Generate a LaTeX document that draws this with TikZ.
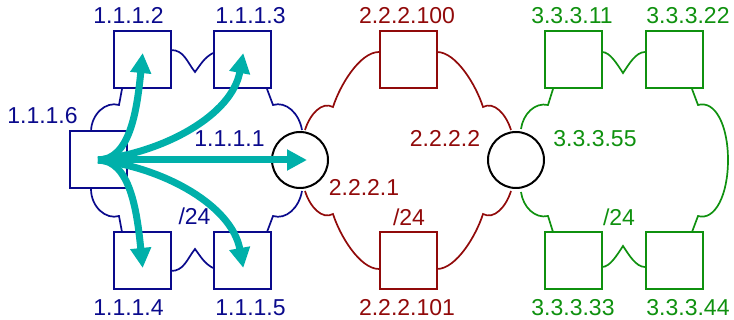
\documentclass[tikz,border=0pt]{standalone}
\usepackage{fontspec}
\setmainfont{Liberation Sans}
\usepackage{tikz}
\usetikzlibrary{arrows.meta}
\definecolor{netblue}{RGB}{10,10,140}
\definecolor{netred}{RGB}{145,10,10}
\definecolor{netgreen}{RGB}{15,145,15}
\definecolor{flowcyan}{RGB}{0,176,170}
\tikzset{
  host/.style={draw, fill=white, line width=1pt, minimum size=28.5pt, inner sep=0pt},
  router/.style={circle, draw=black, fill=white, line width=1pt, minimum size=28pt, inner sep=0pt},
  addr/.style={inner sep=0pt, anchor=base, font=\fontsize{11.5}{13}\selectfont},
  cloudline/.style={line width=0.85pt},
  flow/.style={flowcyan, line width=3.5pt, shorten >=-3.5pt, -{Triangle[width=10pt,length=10pt]}}
}

\begin{document}
\begin{tikzpicture}[x=0.5pt,y=-0.5pt]
\useasboundingbox (0,0) rectangle (734,320);

% network 1 cloud
\draw [netblue,cloudline] (171,50) .. controls (184,50) and (187,62) .. (195,72)
  .. controls (201,64) and (204,58) .. (213,53);
\draw [netblue,cloudline] (171,271) .. controls (184,271) and (187,259) .. (195,249)
  .. controls (201,257) and (204,263) .. (213,268);
\draw [netblue,cloudline] (122,89)--(119,105) .. controls (106,101) and (91,114) .. (91,132);
\draw [netblue,cloudline] (91,189) .. controls (91,207) and (106,220) .. (119,216)--(122,232);
\draw [netblue,cloudline] (267,89)--(273,105) .. controls (286,101) and (299,113) .. (302,130);
\draw [netblue,cloudline] (302,191) .. controls (299,208) and (286,220) .. (273,216)--(267,232);

% network 2 cloud
\draw [netred,cloudline] (305,130) .. controls (310,114) and (322,101) .. (333,107)
  .. controls (340,85) and (360,52) .. (379,52);
\draw [netred,cloudline] (305,191) .. controls (310,207) and (322,220) .. (333,214)
  .. controls (340,236) and (360,269) .. (379,269);
\draw [netred,cloudline] (437,52) .. controls (456,52) and (476,85) .. (483,107)
  .. controls (494,101) and (506,114) .. (511,130);
\draw [netred,cloudline] (437,269) .. controls (456,269) and (476,236) .. (483,214)
  .. controls (494,220) and (506,207) .. (511,191);

% network 3 cloud
\draw [netgreen,cloudline] (521,129) .. controls (523,114) and (535,102) .. (548,105)--(553,89);
\draw [netgreen,cloudline] (521,192) .. controls (523,207) and (535,219) .. (548,216)--(553,232);
\draw [netgreen,cloudline] (602,52) .. controls (610,52) and (617,64) .. (623,73)
  .. controls (629,64) and (636,52) .. (645,52);
\draw [netgreen,cloudline] (602,267) .. controls (610,267) and (617,255) .. (623,246)
  .. controls (629,255) and (636,267) .. (645,267);
\draw [netgreen,cloudline] (692,89)--(698,105) .. controls (715,100) and (728,125) .. (728,160)
  .. controls (728,195) and (715,221) .. (698,216)--(692,232);

% hosts
\node [host,draw=netblue] (h2) at (142,60) {};
\node [host,draw=netblue] (h3) at (242,60) {};
\node [host,draw=netblue] (h6) at (98,160) {};
\node [host,draw=netblue] (h4) at (142,261) {};
\node [host,draw=netblue] (h5) at (242,261) {};
\node [host,draw=netred] (s100) at (408,60) {};
\node [host,draw=netred] (s101) at (408,261) {};
\node [host,draw=netgreen] (g11) at (573,60) {};
\node [host,draw=netgreen] (g22) at (674,60) {};
\node [host,draw=netgreen] (g33) at (573,261) {};
\node [host,draw=netgreen] (g44) at (674,261) {};

% routers
\node [router] (r1) at (300,160) {};
\node [router] (r2) at (516,160) {};

% addresses
\node [addr,netblue] (l2) at (128.5,24) {1.1.1.2};
\node [addr,netblue] (l3) at (250.5,24) {1.1.1.3};
\node [addr,netblue] (l6) at (42.5,124) {1.1.1.6};
\node [addr,netblue] (l1) at (229.5,147) {1.1.1.1};
\node [addr,netblue] (lb24) at (194.5,225) {/24};
\node [addr,netblue] (l4) at (128.5,316) {1.1.1.4};
\node [addr,netblue] (l5) at (250.5,316) {1.1.1.5};
\node [addr,netred] (l100) at (407,24) {2.2.2.100};
\node [addr,netred] (lr2) at (445,147) {2.2.2.2};
\node [addr,netred] (lr1) at (364,196) {2.2.2.1};
\node [addr,netred] (lr24) at (409,226) {/24};
\node [addr,netred] (l101) at (407,316) {2.2.2.101};
\node [addr,netgreen] (l11) at (572,24) {3.3.3.11};
\node [addr,netgreen] (l22) at (688,24) {3.3.3.22};
\node [addr,netgreen] (l55) at (595,147) {3.3.3.55};
\node [addr,netgreen] (lg24) at (619,226) {/24};
\node [addr,netgreen] (l33) at (573,316) {3.3.3.33};
\node [addr,netgreen] (l44) at (688,316) {3.3.3.44};

% broadcast from 1.1.1.6
\draw [flow] (h6.center) .. controls +(32,0) and +(-5,50) .. (h2.center);
\draw [flow] (h6.center) .. controls +(67,-8) and +(-10,55) .. (h3.center);
\draw [flow] (h6.center) -- (r1.center);
\draw [flow] (h6.center) .. controls +(32,0) and +(-5,-50) .. (h4.center);
\draw [flow] (h6.center) .. controls +(67,8) and +(-10,-55) .. (h5.center);

\end{tikzpicture}
\end{document}
